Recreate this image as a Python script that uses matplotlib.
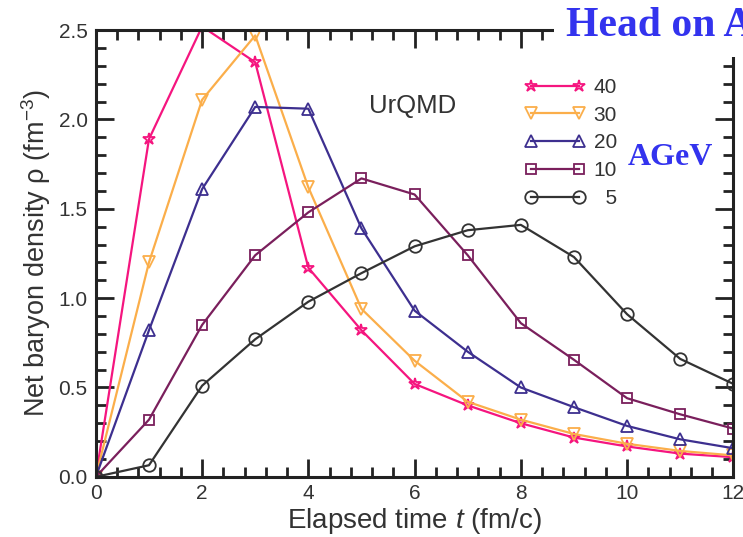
import matplotlib
matplotlib.use("Agg")
import matplotlib.pyplot as plt
from matplotlib.ticker import MultipleLocator

plt.rcParams['font.family'] = ['Liberation Sans', 'DejaVu Sans']
plt.rcParams['mathtext.fontset'] = 'custom'
plt.rcParams['mathtext.rm'] = 'Liberation Sans'
plt.rcParams['mathtext.it'] = 'Liberation Sans:italic'

# elapsed time (fm/c)
t = [0, 1, 2, 3, 4, 5, 6, 7, 8, 9, 10, 11, 12]

# net baryon density for each beam energy (AGeV)
rho_40 = [0.0, 1.89, 2.52, 2.32, 1.17, 0.82, 0.52, 0.40, 0.30, 0.22, 0.17, 0.13, 0.11]
rho_30 = [0.0, 1.20, 2.11, 2.47, 1.62, 0.94, 0.65, 0.42, 0.32, 0.24, 0.185, 0.145, 0.12]
rho_20 = [0.0, 0.82, 1.61, 2.07, 2.06, 1.39, 0.93, 0.70, 0.50, 0.39, 0.285, 0.21, 0.16]
rho_10 = [0.0, 0.32, 0.85, 1.24, 1.48, 1.67, 1.58, 1.24, 0.86, 0.655, 0.44, 0.35, 0.27]
rho_5 = [0.0, 0.065, 0.51, 0.77, 0.98, 1.14, 1.29, 1.38, 1.41, 1.23, 0.91, 0.66, 0.52]

# legend labels, padded so the digits line up on the right
energies = ['40', '30', '20', '10', '  5']

series = [
    (rho_40, '#f5157f', '*'),
    (rho_30, '#fbae4a', 'v'),
    (rho_20, '#3d2f8f', '^'),
    (rho_10, '#7a1f5c', 's'),
    (rho_5, '#333333', 'o'),
]

fig = plt.figure(figsize=(7.43, 5.37), dpi=100)
ax = fig.add_axes([0.129, 0.112, 0.858, 0.832])

for (rho, col, mk), lab in zip(series, energies):
    ax.plot(t, rho, color=col, lw=1.6, marker=mk, ms=9 if mk != 's' else 7,
            mfc='none', mec=col, mew=1.3, label=lab)

ax.set_xlim(0, 12)
ax.set_ylim(0, 2.5)
ax.xaxis.set_major_locator(MultipleLocator(2))
ax.xaxis.set_minor_locator(MultipleLocator(0.4))
ax.yaxis.set_major_locator(MultipleLocator(0.5))
ax.yaxis.set_minor_locator(MultipleLocator(0.1))
ax.yaxis.set_major_formatter(plt.FormatStrFormatter('%.1f'))

ax.tick_params(which='both', direction='in', top=True, right=True,
               width=2, colors='#222222', labelsize=15, labelcolor='#333333')
ax.tick_params(which='major', length=13)
ax.tick_params(axis='y', which='major', pad=6)
ax.tick_params(axis='x', which='major', pad=5)
ax.tick_params(which='minor', length=7)
for sp in ax.spines.values():
    sp.set_linewidth(2.2)
    sp.set_color('#222222')

ax.set_xlabel('Elapsed time $t$ (fm/c)', fontsize=20, color='#333333', labelpad=2)
ax.set_ylabel('Net baryon density ρ (fm$^{-3}$)', fontsize=19.5, color='#333333', labelpad=4)

ax.text(0.497, 0.83, 'UrQMD', transform=ax.transAxes, fontsize=18.5,
        color='#333333', ha='center', va='center')

leg = ax.legend(loc='upper left', bbox_to_anchor=(0.644, 0.935), frameon=False,
                numpoints=2, handlelength=2.9, fontsize=15, labelspacing=0.42,
                handletextpad=0.39, labelcolor='#333333')

# blue annotations on top of the frame
fig.text(0.762, 0.933, 'Head on A', fontsize=30, fontweight='bold',
         family='Liberation Serif', color='#3333ee', ha='left', va='baseline',
         bbox=dict(facecolor='white', edgecolor='none', pad=9))
fig.text(0.845, 0.707, 'AGeV', fontsize=23, fontweight='bold',
         family='Liberation Serif', color='#3333ee', ha='left', va='center')

fig.savefig('out.png', dpi=100)
